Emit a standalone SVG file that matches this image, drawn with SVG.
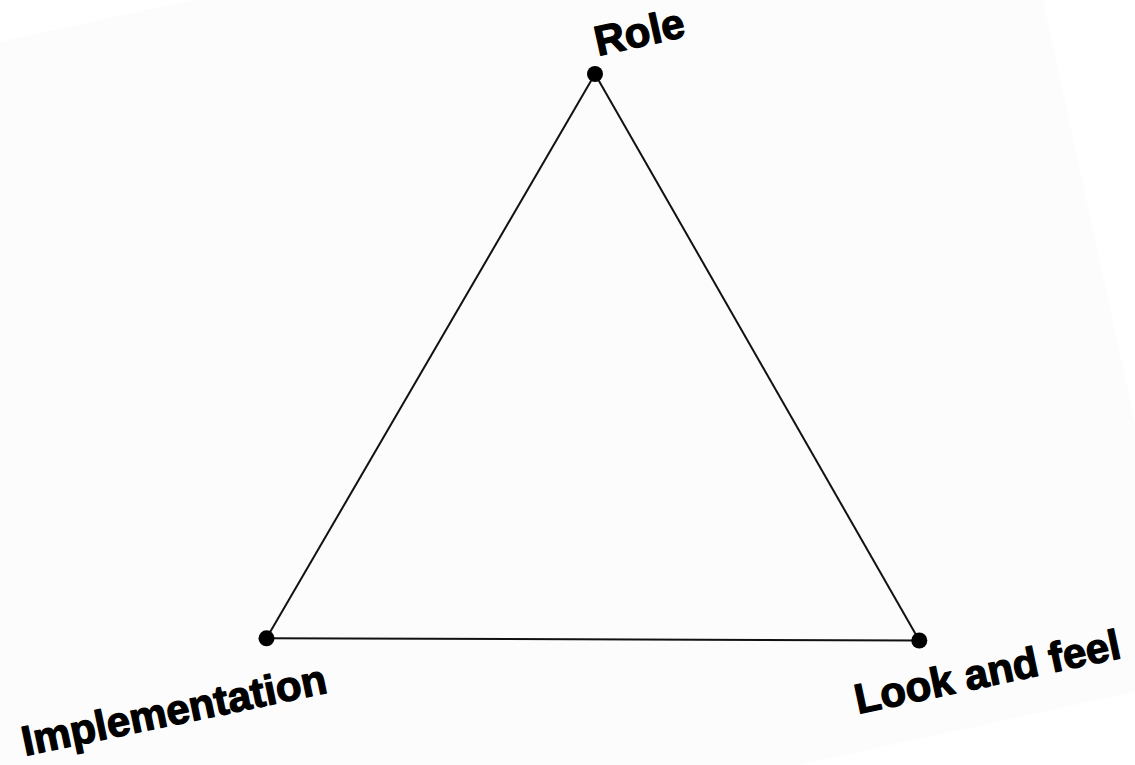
<svg xmlns="http://www.w3.org/2000/svg" width="1135" height="765" viewBox="0 0 1135 765">
<style>
.lbl{font-family:"Liberation Sans",Arial,sans-serif;font-weight:bold;font-size:42px;fill:#000;stroke:#000;stroke-width:1.3;stroke-linejoin:round}
.edge{stroke:#111;stroke-width:2;fill:none}
.dot{fill:#000}
</style>
<rect width="1135" height="765" fill="#ffffff"/>
<polygon points="0,41.7 192,0 1043,0 1135,423 1135,692 799,765 0,765" fill="#fcfcfc"/>
<g id="connectors">
<line class="edge" x1="595" y1="74" x2="266.5" y2="638.3"/>
<line class="edge" x1="595" y1="74" x2="919.3" y2="640.5"/>
<line class="edge" x1="266.5" y1="638.3" x2="919.3" y2="640.5"/>
</g>
<g id="role">
<circle class="dot" cx="595" cy="74" r="8"/>
<text class="lbl" transform="translate(598,56) rotate(-12.5)" font-size="40">Role</text>
</g>
<g id="implementation">
<circle class="dot" cx="266.5" cy="638.3" r="8"/>
<text class="lbl" transform="translate(25,756) rotate(-11.8)">Implementation</text>
</g>
<g id="lookandfeel">
<circle class="dot" cx="919.3" cy="640.5" r="8"/>
<text class="lbl" transform="translate(858,714) rotate(-12)">Look and feel</text>
</g>
</svg>
